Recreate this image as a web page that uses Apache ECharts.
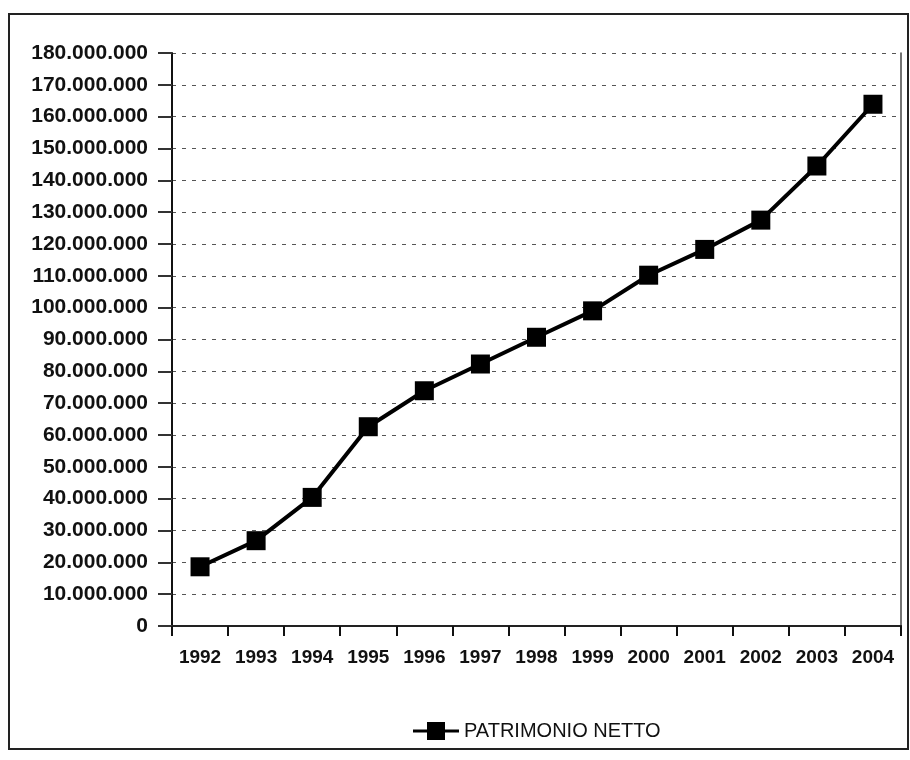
<!DOCTYPE html>
<html>
<head>
<meta charset="utf-8">
<script src="https://cdn.jsdelivr.net/npm/echarts@6/dist/echarts.min.js"></script>
<style>
  html, body { margin: 0; padding: 0; background: #fff; }
  #frame { position: absolute; left: 8px; top: 13px; width: 897px; height: 733px; border: 2px solid #222; }
  #chart { position: absolute; left: 0; top: 0; width: 910px; height: 760px; }
</style>
</head>
<body>
<div id="frame"></div>
<div id="chart"></div>
<script>
const years = ['1992', '1993', '1994', '1995', '1996', '1997', '1998', '1999', '2000', '2001', '2002', '2003', '2004']
const patrimonioNetto = [18600000, 26800000, 40400000, 62600000, 73900000, 82300000, 90700000, 99000000, 110200000, 118300000, 127500000, 144500000, 163900000]
const seriesName = 'PATRIMONIO NETTO'

const chart = echarts.init(document.getElementById('chart'))

// formato italiano: punto come separatore delle migliaia
function fmt(v) {
  return String(v).replace(/\B(?=(\d{3})+(?!\d))/g, '.')
}

const option = {
  backgroundColor: 'transparent',
  animation: false,
  textStyle: { fontFamily: 'Liberation Sans, Arial, sans-serif' },
  legend: {
    data: [{ name: seriesName, icon: 'path://M0,7.5 H46 V10.5 H0 Z M14,0 H32 V18 H14 Z' }],
    left: 408,
    top: 716,
    itemWidth: 46,
    itemHeight: 18,
    itemGap: 5,
    textStyle: { fontSize: 20, color: '#111', fontFamily: 'Liberation Sans' }
  },
  grid: {
    left: 172,
    right: 9,
    top: 53,
    bottom: 134
  },
  xAxis: [
    {
      type: 'category',
      data: years,
      boundaryGap: true,
      axisLine: { lineStyle: { color: '#111', width: 2 } },
      axisTick: { show: true, length: 10, lineStyle: { color: '#111', width: 2 } },
      axisLabel: { color: '#111', fontSize: 19, fontWeight: 'bold', margin: 22 }
    },
    {
      type: 'category',
      data: years,
      position: 'top',
      axisLine: { lineStyle: { color: '#222', width: 2 } },
      axisTick: { show: false },
      axisLabel: { show: false }
    }
  ],
  yAxis: [
    {
      type: 'value',
      min: 0,
      max: 180000000,
      interval: 10000000,
      axisLine: { show: true, lineStyle: { color: '#111', width: 2 } },
      axisTick: { show: true, length: 14, lineStyle: { color: '#333', width: 2 } },
      axisLabel: { color: '#111', fontSize: 21, fontWeight: 'bold', margin: 24, formatter: fmt },
      splitLine: { show: true, lineStyle: { color: '#555', type: [4, 6], width: 1 } }
    },
    {
      type: 'value',
      min: 0,
      max: 180000000,
      interval: 10000000,
      position: 'right',
      axisLine: { show: true, lineStyle: { color: '#444', width: 1.5 } },
      axisTick: { show: false },
      axisLabel: { show: false },
      splitLine: { show: false }
    }
  ],
  series: [
    {
      name: seriesName,
      type: 'line',
      data: patrimonioNetto,
      symbol: 'rect',
      symbolSize: 19,
      lineStyle: { color: '#000', width: 4 },
      itemStyle: { color: '#000' }
    }
  ]
}

chart.setOption(option)
</script>
</body>
</html>
